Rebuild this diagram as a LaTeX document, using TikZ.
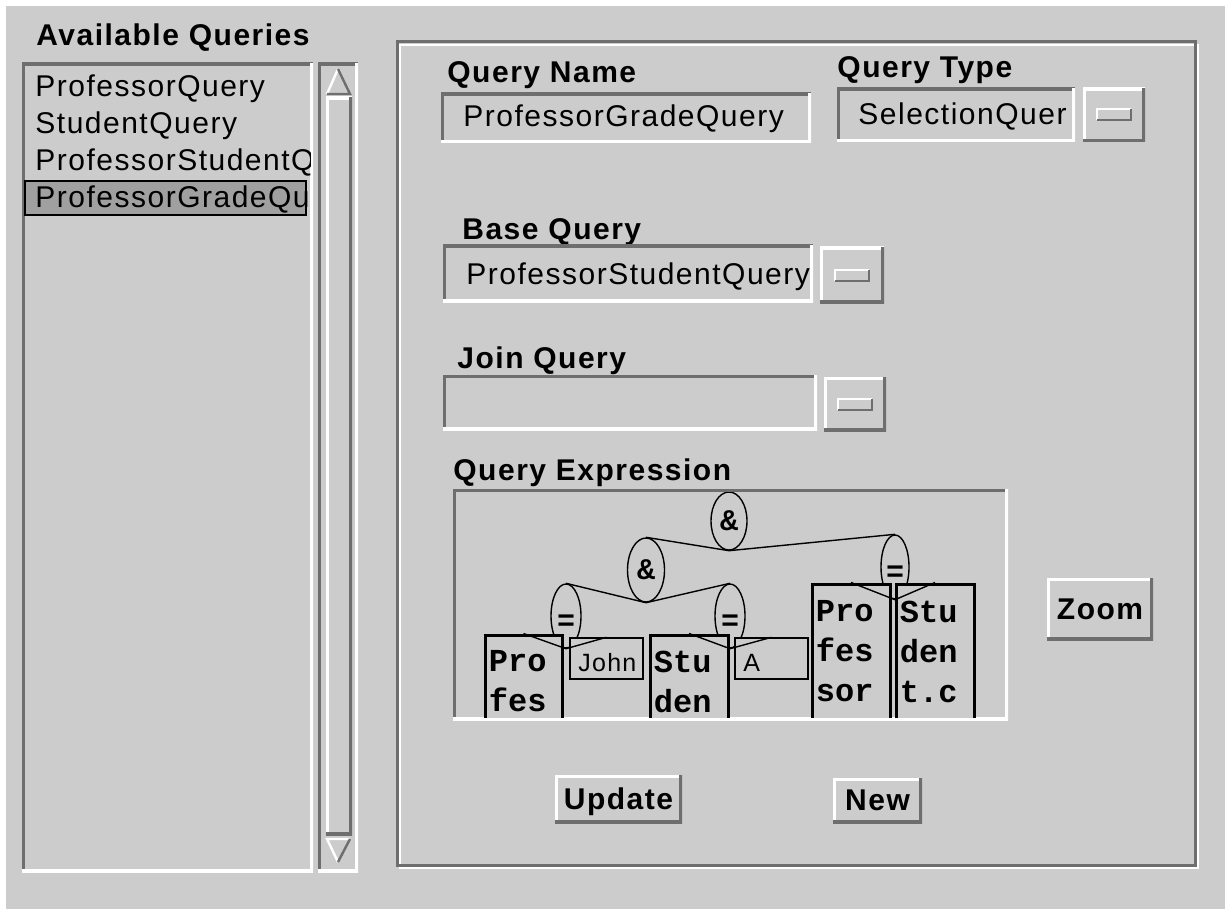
\documentclass[tikz,border=0pt]{standalone}
\usepackage{fontspec}
\setmainfont{Liberation Sans}[LetterSpace=5]
\newfontfamily\treefont{Liberation Mono}
\usetikzlibrary{fit,calc,shapes.geometric}
\definecolor{panel}{HTML}{CCCCCC}
\definecolor{edgedark}{HTML}{6E6E6E}
\definecolor{picked}{HTML}{A0A0A0}
\tikzset{
  widget/.style={rectangle, inner sep=0pt, outer sep=0pt, fill=panel},
  sunken/.style={widget, path picture={
      \draw[edgedark, line width=3pt] (path picture bounding box.south west)
        |- (path picture bounding box.north east);
      \draw[white, line width=3pt] (path picture bounding box.south west)
        -| (path picture bounding box.north east);}},
  raised/.style={widget, path picture={
      \draw[white, line width=3pt] (path picture bounding box.south west)
        |- (path picture bounding box.north east);
      \draw[edgedark, line width=3pt] (path picture bounding box.south west)
        -| (path picture bounding box.north east);}},
  combo/.style={widget, path picture={
      \draw[white, line width=3pt] (path picture bounding box.south west)
        |- (path picture bounding box.north east);
      \draw[edgedark, line width=3pt] (path picture bounding box.south west)
        -| (path picture bounding box.north east);
      \draw[white, line width=1pt]
        ([shift={(-8.5pt,-2.75pt)}]path picture bounding box.center)
        |- ([shift={(8.5pt,2.75pt)}]path picture bounding box.center);
      \draw[edgedark, line width=1pt]
        ([shift={(-8.5pt,-2.75pt)}]path picture bounding box.center)
        -| ([shift={(8.5pt,2.75pt)}]path picture bounding box.center);}},
  caption/.style={anchor=base west, inner sep=0pt,
                  font=\fontsize{15}{18}\selectfont\bfseries},
  btntext/.style={anchor=center, inner sep=0pt, text depth=0pt,
                  font=\fontsize{15}{18}\selectfont\bfseries},
  item/.style={anchor=base west, inner sep=0pt},
  opnode/.style={ellipse, draw, fill=panel, line width=0.7pt, inner sep=0pt,
                 font=\treefont\bfseries\fontsize{15}{15}\selectfont},
  eqnode/.style={opnode, text height=14pt, text depth=0pt,
                 minimum height=32pt},
  refbox/.style={rectangle, draw, fill=panel, line width=1.5pt, inner sep=0pt},
  reftext/.style={anchor=north west, align=left, inner sep=0pt,
                  font=\treefont\bfseries\fontsize{16}{20}\selectfont},
  valbox/.style={rectangle, draw, fill=panel, line width=0.7pt, inner sep=0pt},
  valtext/.style={anchor=base west, inner sep=0pt,
                  font=\fontsize{12.5}{15}\selectfont},
  link/.style={draw, line width=0.7pt}
}

\begin{document}
\begin{tikzpicture}[x=0.5pt, y=-0.5pt, font=\fontsize{15}{18}\selectfont]
  \useasboundingbox (0,0) rectangle (1225,909);
  \fill[panel] (6,6) rectangle (1225,909);

  % the stored queries and their scroll bar
  \node[caption] (availcap) at (36,46) {Available Queries};
  \node[sunken, fit={(22,63) (313,872)}] (qlist) {};
  \node[widget, draw=black, line width=1pt, fill=picked,
        fit={(25,181) (306,215)}] (qpick) {};
  \begin{scope}
    \clip (25,66) rectangle (310,869);
    \foreach \qname [count=\k] in {ProfessorQuery, StudentQuery,
                                    ProfessorStudentQ, ProfessorGradeQu}
      \node[item] (qitem\k) at (35, {60 + 37*\k}) {\qname};
  \end{scope}
  \node[sunken, fit={(318,63) (358,872)}] (sbar) {};
  \node[raised, fit={(326,97) (352,835)}] (thumb) {};
  \coordinate (upL) at (327,94);
  \coordinate (upR) at (350,94);
  \coordinate (upT) at (338,69);
  \fill[panel] (upL) -- (upT) -- (upR) -- cycle;
  \draw[white, line width=1.2pt] (upL) -- (upT);
  \draw[edgedark, line width=1.2pt] (upT) -- (upR) -- (upL);
  \coordinate (dnL) at (327,839);
  \coordinate (dnR) at (350,839);
  \coordinate (dnB) at (338,862);
  \fill[panel] (dnL) -- (dnB) -- (dnR) -- cycle;
  \draw[white, line width=1.2pt] (dnB) -- (dnL) -- (dnR);
  \draw[edgedark, line width=1.2pt] (dnR) -- (dnB);

  % the editor frame
  \draw[white, line width=1pt] (400,45) rectangle (1198,868);
  \draw[edgedark, line width=1.5pt] (397,42) rectangle (1195,865);

  \node[caption] (namecap) at (447,83) {Query Name};
  \node[sunken, fit={(441,93) (811,143)}] (namefield) {};
  \node[caption] (typecap) at (837,78) {Query Type};
  \node[sunken, fit={(837,88) (1075,142)}] (typefield) {};
  \node[combo, fit={(1083,88) (1145,142)}] (typebtn) {};
  \node[caption] (basecap) at (462,240) {Base Query};
  \node[sunken, fit={(443,245) (813,302)}] (basefield) {};
  \node[combo, fit={(820,247) (884,303)}] (basebtn) {};
  \begin{scope}
    \clip (444,96) rectangle (808,140);
    \node[item] (nametxt) at (463,127) {ProfessorGradeQuery};
  \end{scope}
  \begin{scope}
    \clip (840,91) rectangle (1072,139);
    \node[item] (typetxt) at (858,125) {SelectionQuer};
  \end{scope}
  \begin{scope}
    \clip (446,248) rectangle (810,299);
    \node[item] (basetxt) at (466,285) {ProfessorStudentQuery};
  \end{scope}

  \node[caption] (joincap) at (457,368) {Join Query};
  \node[sunken, fit={(443,375) (817,430)}] (joinfield) {};
  \node[combo, fit={(824,377) (886,431)}] (joinbtn) {};

  % the expression tree, cut off by its box
  \node[caption] (exprcap) at (453,480) {Query Expression};
  \node[sunken, fit={(453,489) (1008,720)}] (exprbox) {};
  \begin{scope}
    \clip (456,492) rectangle (1005,717);
    \node[opnode, minimum width=18pt, minimum height=29pt] (and1) at (729,521) {\&};
    \node[opnode, minimum width=18.5pt, minimum height=32pt] (and2) at (646,570) {\&};
    \node[eqnode, minimum width=14pt] (eqR) at (895,567) {=};
    \node[eqnode, minimum width=15pt] (eqL) at (566,616) {=};
    \node[eqnode, minimum width=15pt] (eqM) at (730,616) {=};
    \draw[link] (and1.south) -- (and2.north);
    \draw[link] (and1.south) -- (eqR.north);
    \draw[link] (and2.south) -- (eqL.north);
    \draw[link] (and2.south) -- (eqM.north);

    \node[refbox, fit={(485,635) (562,740)}] (profA) {};
    \node[reftext] (profAtxt) at ([xshift=2.5pt, yshift=-8.5pt]profA.north west) {Pro\\fes};
    \node[valbox, fit={(570,638) (643,679)}] (johnbox) {};
    \node[valtext] (johntxt) at (578,671) {John};
    \node[refbox, fit={(650,635) (728,740)}] (studA) {};
    \node[reftext] (studAtxt) at ([xshift=2.5pt, yshift=-8.5pt]studA.north west) {Stu\\den};
    \node[valbox, fit={(735,638) (808,679)}] (abox) {};
    \node[valtext] (atxt) at (743,671) {A};
    \node[refbox, fit={(812,584) (890,740)}] (profB) {};
    \node[reftext] (profBtxt) at ([xshift=2.5pt, yshift=-9pt]profB.north west) {Pro\\fes\\sor};
    \node[refbox, fit={(896,584) (974,740)}] (studB) {};
    \node[reftext] (studBtxt) at ([xshift=2.5pt, yshift=-9pt]studB.north west) {Stu\\den\\t.c};

    \draw[link] (eqL.south) -- (profA.north);
    \draw[link] (eqL.south) -- (johnbox.north);
    \draw[link] (eqM.south) -- (studA.north);
    \draw[link] (eqM.south) -- (abox.north);
    \draw[link] (eqR.south) -- (profB.north);
    \draw[link] (eqR.south) -- (studB.north);
  \end{scope}

  \node[raised, fit={(1047,578) (1153,640)}] (zoombtn) {};
  \node[btntext] (zoomtxt) at (zoombtn.center) {Zoom};
  \node[raised, fit={(555,775) (682,823)}] (updatebtn) {};
  \node[btntext] (updatetxt) at (updatebtn.center) {Update};
  \node[raised, fit={(833,778) (922,823)}] (newbtn) {};
  \node[btntext] (newtxt) at (newbtn.center) {New};
\end{tikzpicture}
\end{document}
